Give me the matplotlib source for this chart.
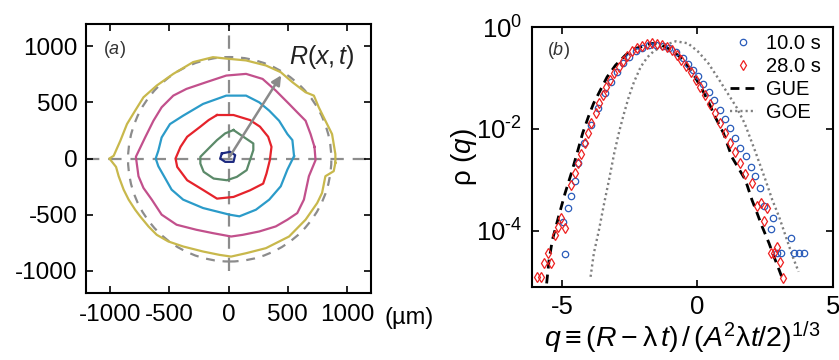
import matplotlib
matplotlib.use("Agg")
import matplotlib.pyplot as plt
from matplotlib.patches import Ellipse
import numpy as np

plt.rcParams['font.family'] = ['Liberation Sans', 'DejaVu Sans']
plt.rcParams['mathtext.fontset'] = 'custom'
plt.rcParams['mathtext.rm'] = 'Liberation Sans'
plt.rcParams['mathtext.it'] = 'Liberation Sans:italic'
plt.rcParams['mathtext.bf'] = 'Liberation Sans:bold'
plt.rcParams['axes.unicode_minus'] = False

# --- panel (a): interfaces (um) ---
navy_x = [-56, 14, 56, 42, -28, -70, -56]
navy_y = [45, 60, 30, -30, -30, 0, 45]

green_x = [42, 125, 209, 209, 181, 153, 70, -14, -125, -209, -237, -237, -167, -97, -28, 42]
green_y = [254, 194, 134, 75, -15, -104, -164, -194, -179, -119, -45, 15, 90, 164, 224, 254]

red_x = [-97, 42, 181, 265, 334, 362, 348, 320, 292, 181, 42, -97, -209, -348, -432, -446,
         -404, -348, -237, -167, -97]
red_y = [388, 388, 343, 284, 194, 104, -15, -134, -224, -284, -343, -358, -284, -194, -75, 0,
         104, 194, 284, 343, 388]

cyan_x = [552, 538, 496, 426, 343, 259, 148, -19, -214, -382, -493, -563, -591, -613, -591,
          -535, -479, -382, -214, 8, 92, 231, 343, 440, 496, 552]
cyan_y = [21, 164, 218, 337, 427, 501, 561, 561, 487, 382, 307, 188, 69, 0, -69,
          -173, -278, -367, -442, -501, -516, -457, -367, -248, -99, 21]

magenta_x = [724, 691, 649, 579, 510, 398, 287, 148, -19, -187, -354, -465, -563, -632, -702,
             -780, -758, -716, -646, -563, -437, -270, -131, 22, 120, 259, 398, 496, 579, 635,
             677, 733, 724]
magenta_y = [104, 218, 337, 412, 487, 606, 710, 755, 740, 681, 621, 561, 457, 337, 188,
             15, -158, -263, -367, -501, -591, -636, -666, -696, -681, -651, -606, -546, -487, -367,
             -158, -15, 104]

yellow_x = [900, 900, 872, 816, 760, 719, 649, 538, 440, 315, 148, -6, -131, -298, -465, -604,
            -716, -786, -855, -911, -967, -1003, -947, -925, -883, -841, -786, -744, -674, -604,
            -507, -382, -214, -75, 22, 148, 315, 510, 649, 747, 788, 816, 886, 900]
yellow_y = [-39, 39, 218, 337, 457, 561, 591, 681, 770, 830, 875, 890, 904, 860, 755, 651,
            546, 427, 307, 158, 24, 0, -75, -158, -278, -367, -457, -516, -606, -681,
            -740, -785, -830, -860, -875, -845, -800, -696, -546, -397, -307, -158, -113, -39]

contours = [
    (yellow_x, yellow_y, '#c8b84c'),
    (magenta_x, magenta_y, '#c2508c'),
    (cyan_x, cyan_y, '#2b9bc9'),
    (red_x, red_y, '#e5232b'),
    (green_x, green_y, '#5b8a69'),
    (navy_x, navy_y, '#1d2a80'),
]

# --- panel (b): distributions (log10 rho) ---
blue_q = [-4.90, -4.94, -4.78, -4.65, -4.53, -4.39, -4.17, -3.92, -3.67, -3.42, -3.17, -2.96,
          -2.74, -2.52, -2.28, -2.03, -1.78, -1.53, -1.28, -1.03, -0.78, -0.53, -0.35, -0.16,
          0.02, 0.21, 0.42, 0.62, 0.83, 1.02, 1.21, 1.39, 1.58, 1.79, 1.99, 2.14, 2.30, 2.45,
          2.70, 2.80, 2.95, 3.07, 3.44, 3.57, 3.76, 3.94]
blue_log = [-4.45, -3.82, -3.56, -3.31, -3.02, -2.66, -2.28, -1.92, -1.58, -1.30, -1.07, -0.88,
            -0.71, -0.58, -0.48, -0.41, -0.36, -0.35, -0.37, -0.42, -0.50, -0.61, -0.73, -0.84,
            -0.97, -1.12, -1.27, -1.44, -1.63, -1.81, -1.99, -2.18, -2.38, -2.54, -2.74, -2.93, -3.16, -3.52,
            -3.97, -3.75, -4.44, -4.44, -4.14, -4.44, -4.44, -4.44]

red_q = [-5.90, -5.78, -5.65, -5.40, -5.52, -5.27, -5.15, -4.90, -5.03, -4.65, -4.53, -4.40,
         -4.28, -4.15, -4.03, -3.91, -3.74, -3.62, -3.48, -3.36, -3.21, -3.06, -2.90, -2.75,
         -2.59, -2.43, -2.24, -2.05, -1.87, -1.68, -1.49, -1.31, -1.12, -0.95, -0.76, -0.60,
         -0.41, -0.25, -0.07, 0.09, 0.27, 0.46, 0.65, 0.83, 1.02, 1.21, 1.39, 1.58, 1.77,
         2.01, 2.18, 2.33, 2.55, 2.45, 2.70, 2.82, 2.95, 3.05, 3.17]
red_log = [-4.90, -4.90, -4.62, -4.62, -4.44, -4.08, -3.92, -3.95, -3.75, -3.10, -2.87, -2.66,
           -2.50, -2.27, -2.08, -1.89, -1.68, -1.50, -1.33, -1.18, -1.04, -0.91, -0.78, -0.67,
           -0.57, -0.48, -0.42, -0.37, -0.33, -0.32, -0.33, -0.35, -0.40, -0.46, -0.55, -0.65,
           -0.76, -0.89, -1.03, -1.18, -1.33, -1.51, -1.69, -1.88, -2.07, -2.27, -2.46, -2.67, -2.88,
           -3.06, -3.52, -3.46, -3.55, -3.80, -4.44, -4.44, -4.31, -4.60, -4.92]

gue_q = [-5.56, -5.47, -5.35, -5.12, -4.88, -4.65, -4.44, -4.23, -4.02, -3.83, -3.58, -3.33,
         -3.02, -2.65, -2.28, -1.90, -1.72, -1.53, -1.34, -0.97, -0.66, -0.35, -0.10, 0.15,
         0.40, 0.65, 0.96, 1.27, 1.77, 2.01, 2.20, 2.39, 2.64, 2.82, 3.01, 3.13]
gue_log = [-5.03, -4.57, -4.18, -3.72, -3.26, -2.87, -2.48, -2.08, -1.76, -1.50, -1.24, -0.98,
           -0.75, -0.55, -0.42, -0.36, -0.32, -0.33, -0.35, -0.45, -0.58, -0.78, -0.97, -1.20,
           -1.46, -1.76, -2.08, -2.55, -3.00, -3.39, -3.65, -3.92, -4.24, -4.50, -4.76, -4.93]

goe_q = [-3.94, -3.82, -3.63, -3.44, -3.26, -3.07, -2.88, -2.71, -2.53, -2.34, -2.09, -1.84,
         -1.60, -1.22, -0.80, -0.35, 0.02, 0.40, 0.77, 1.15, 1.46, 1.75, 2.14, 2.51, 2.76,
         3.01, 3.26, 3.51, 3.73]
goe_log = [-4.90, -4.44, -3.98, -3.46, -3.00, -2.48, -2.04, -1.70, -1.37, -1.08, -0.78, -0.59,
           -0.47, -0.36, -0.28, -0.32, -0.48, -0.71, -1.01, -1.33, -1.59, -1.90, -2.45, -3.00, -3.39,
           -3.72, -4.11, -4.50, -4.80]

fig = plt.figure(figsize=(8.39, 3.6), dpi=100)

# ---------------- (a) ----------------
ax1 = fig.add_axes([86 / 839, 67 / 360, 285 / 839, 269 / 360])
ax1.axhline(0, color='#8c8c8c', lw=1.6, dashes=(6, 4), zorder=1)
ax1.plot([0, 0], [-1000, 1200], color='#8c8c8c', lw=1.6, dashes=(6, 4), zorder=1)
ax1.add_patch(Ellipse((10, -7), 1712, 1824, fill=False, ec='#8c8c8c', lw=1.6,
                      ls=(0, (4, 3.5)), zorder=1))
for cx, cy, col in contours:
    ax1.plot(cx, cy, color=col, lw=1.6, zorder=2)
ax1.annotate('', xy=(456, 763), xytext=(0, 0),
             arrowprops=dict(arrowstyle='-|>', color='#8a8a8a', lw=1.8, mutation_scale=14),
             zorder=3)
ax1.text(510, 907, r'$R(x,t)$', fontsize=18, ha='left', va='center', color='#222222')
ax1.text(-1060, 975, r'$(\mathit{a})$', fontsize=13, ha='left', va='center', color='#333333')
ax1.set_xlim(-1200, 1200)
ax1.set_ylim(-1200, 1200)
ticks = [-1000, -500, 0, 500, 1000]
ax1.set_xticks(ticks)
ax1.set_yticks(ticks)
ax1.tick_params(direction='in', top=True, right=True, length=5, width=1.2, labelsize=17.5)
ax1.tick_params(axis='x', pad=8)
ax1.tick_params(axis='y', pad=6)
for s in ax1.spines.values():
    s.set_linewidth(1.5)
fig.text(384 / 839, 1 - 318 / 360, '(µm)', fontsize=17, ha='left', va='center')

# ---------------- (b) ----------------
ax2 = fig.add_axes([532 / 839, 73 / 360, 301 / 839, 260 / 360])
ax2.set_yscale('log')
ax2.plot(blue_q, 10 ** np.array(blue_log), 'o', mfc='none', mec='#2a5cba', ms=4.6, mew=0.9,
         label='10.0 s', zorder=3)
ax2.plot(red_q, 10 ** np.array(red_log), 'd', mfc='none', mec='#ee2020', ms=5.2, mew=0.9,
         label='28.0 s', zorder=3)
ax2.plot(gue_q, 10 ** np.array(gue_log), color='black', lw=2.0, dashes=(3.2, 2.2),
         label='GUE', zorder=2)
ax2.plot(goe_q, 10 ** np.array(goe_log), color='#7f7f7f', lw=1.7, dashes=(0.9, 1.3),
         label='GOE', zorder=2)
ax2.set_xlim(-6.1, 5)
ax2.set_ylim(10 ** -5.1, 1)
ax2.set_xticks([-5, 0, 5])
ax2.set_yticks([1, 1e-2, 1e-4])
ax2.set_yticklabels([r'$10^{0}$', r'$10^{\text{-2}}$', r'$10^{\text{-4}}$'])
ax2.minorticks_off()
ax2.tick_params(direction='in', top=True, right=True, length=5, width=1.2, labelsize=18.5)
ax2.tick_params(axis='x', pad=6)
ax2.tick_params(axis='y', pad=7)
for s in ax2.spines.values():
    s.set_linewidth(1.5)
ax2.text(0.05, 0.91, r'$(\mathit{b})$', transform=ax2.transAxes, fontsize=13,
         ha='left', va='center', color='#333333')
ax2.set_ylabel(r'$\mathrm{\rho}\ (q)$', fontsize=20, labelpad=-2)
ax2.set_xlabel(r'$q \equiv (R - \mathrm{\lambda}\,t)\,/\,(A^2\mathrm{\lambda}t/2)^{1/3}$',
               fontsize=20.5, labelpad=0)
leg = ax2.legend(loc='upper right', bbox_to_anchor=(1.0, 1.02), frameon=False, fontsize=14.5,
                 handlelength=1.3, handletextpad=0.5, labelspacing=0.2, borderaxespad=0.2,
                 numpoints=1)

fig.savefig('out.png', dpi=100)
